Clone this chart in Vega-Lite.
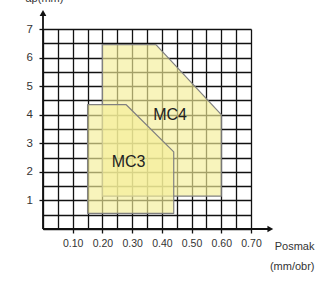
{
  "$schema": "https://vega.github.io/schema/vega-lite/v6.json",
  "width": 208,
  "height": 200,
  "autosize": "none",
  "padding": {"left": 43, "top": 29, "right": 68, "bottom": 52},
  "background": "white",
  "config": {"view": {"stroke": null}, "font": "Liberation Sans"},
  "datasets": {
    "regions": [
      {"tool": "MC4", "feed": 0.2, "ap_low": 1.15, "ap": 6.45},
      {"tool": "MC4", "feed": 0.38, "ap_low": 1.15, "ap": 6.45},
      {"tool": "MC4", "feed": 0.6, "ap_low": 1.15, "ap": 4.0},
      {"tool": "MC3", "feed": 0.15, "ap_low": 0.55, "ap": 4.35},
      {"tool": "MC3", "feed": 0.28, "ap_low": 0.55, "ap": 4.35},
      {"tool": "MC3", "feed": 0.44, "ap_low": 0.55, "ap": 2.7}
    ],
    "axislines": [
      {"feed": 0, "ap": 0, "feed2": 0.765, "ap2": 0},
      {"feed": 0, "ap": 0, "feed2": 0, "ap2": 7.56}
    ],
    "arrows": [
      {"feed": 0.765, "ap": 0, "shape": "triangle-right"},
      {"feed": 0, "ap": 7.56, "shape": "triangle-up"}
    ],
    "labels": [
      {"label": "MC4", "feed": 0.4275, "ap": 3.99},
      {"label": "MC3", "feed": 0.288, "ap": 2.35}
    ]
  },
  "encoding": {
    "x": {
      "field": "feed", "type": "quantitative",
      "scale": {"domain": [0, 0.7], "nice": false, "zero": false},
      "axis": {
        "values": [0, 0.05, 0.1, 0.15, 0.2, 0.25, 0.3, 0.35, 0.4, 0.45, 0.5, 0.55, 0.6, 0.65, 0.7],
        "grid": true, "gridColor": "#111111", "gridWidth": 1.3, "gridOpacity": 1,
        "domain": false,
        "tickColor": "#111111", "tickWidth": 1.3, "tickSize": 4,
        "tickOpacity": {"condition": {"test": "abs(datum.value*10 - round(datum.value*10)) < 0.01 && datum.value > 0.01", "value": 1}, "value": 0},
        "labelExpr": "abs(datum.value*10 - round(datum.value*10)) < 0.01 && datum.value > 0.01 ? format(datum.value, '.2f') : ''",
        "labelFont": "Liberation Sans", "labelFontSize": 10.5, "labelColor": "#333333", "labelPadding": 5,
        "labelFlush": false, "labelOverlap": false,
        "title": ["Posmak", "(mm/obr)"],
        "titleX": 271, "titleY": 20.5, "titleAlign": "right", "titleBaseline": "alphabetic",
        "titleFont": "Liberation Sans", "titleFontSize": 11, "titleFontWeight": "normal", "titleColor": "#333333", "titleLineHeight": 20
      }
    },
    "y": {
      "field": "ap", "type": "quantitative",
      "scale": {"domain": [0, 7], "nice": false, "zero": false},
      "axis": {
        "values": [0, 0.5, 1, 1.5, 2, 2.5, 3, 3.5, 4, 4.5, 5, 5.5, 6, 6.5, 7],
        "grid": true, "gridColor": "#111111", "gridWidth": 1.3, "gridOpacity": 1,
        "domain": false,
        "tickColor": "#111111", "tickWidth": 1.3, "tickSize": 4,
        "tickOpacity": {"condition": {"test": "datum.value % 1 == 0 && datum.value > 0", "value": 1}, "value": 0},
        "labelExpr": "datum.value % 1 == 0 && datum.value > 0 ? format(datum.value, 'd') : ''",
        "labelFont": "Liberation Sans", "labelFontSize": 11.5, "labelColor": "#333333", "labelPadding": 6.5,
        "labelFlush": false, "labelOverlap": false,
        "title": "ap(mm)", "titleAngle": 0,
        "titleX": -18, "titleY": -27.5, "titleAlign": "left", "titleBaseline": "alphabetic",
        "titleFont": "Liberation Sans", "titleFontSize": 11, "titleFontWeight": "normal", "titleColor": "#333333"
      }
    }
  },
  "layer": [
    {
      "data": {"name": "regions"},
      "transform": [{"filter": "datum.tool == 'MC4'"}],
      "mark": {"type": "area", "interpolate": "linear", "fill": "#f5ee98", "fillOpacity": 0.65, "stroke": "#808080", "strokeWidth": 1.2, "strokeJoin": "round"},
      "encoding": {"y2": {"field": "ap_low"}}
    },
    {
      "data": {"name": "regions"},
      "transform": [{"filter": "datum.tool == 'MC3'"}],
      "mark": {"type": "area", "interpolate": "linear", "fill": "#f5ee98", "fillOpacity": 0.65, "stroke": "#808080", "strokeWidth": 1.2, "strokeJoin": "round"},
      "encoding": {"y2": {"field": "ap_low"}}
    },
    {
      "data": {"name": "axislines"},
      "mark": {"type": "rule", "color": "#111111", "strokeWidth": 1.8},
      "encoding": {"x2": {"field": "feed2"}, "y2": {"field": "ap2"}}
    },
    {
      "data": {"name": "arrows"},
      "mark": {"type": "point", "filled": true, "color": "#111111", "size": 45, "opacity": 1},
      "encoding": {"shape": {"field": "shape", "type": "nominal", "scale": null}}
    },
    {
      "data": {"name": "labels"},
      "mark": {"type": "text", "font": "Liberation Sans", "fontSize": 16, "color": "#222222"},
      "encoding": {"text": {"field": "label"}}
    }
  ]
}
